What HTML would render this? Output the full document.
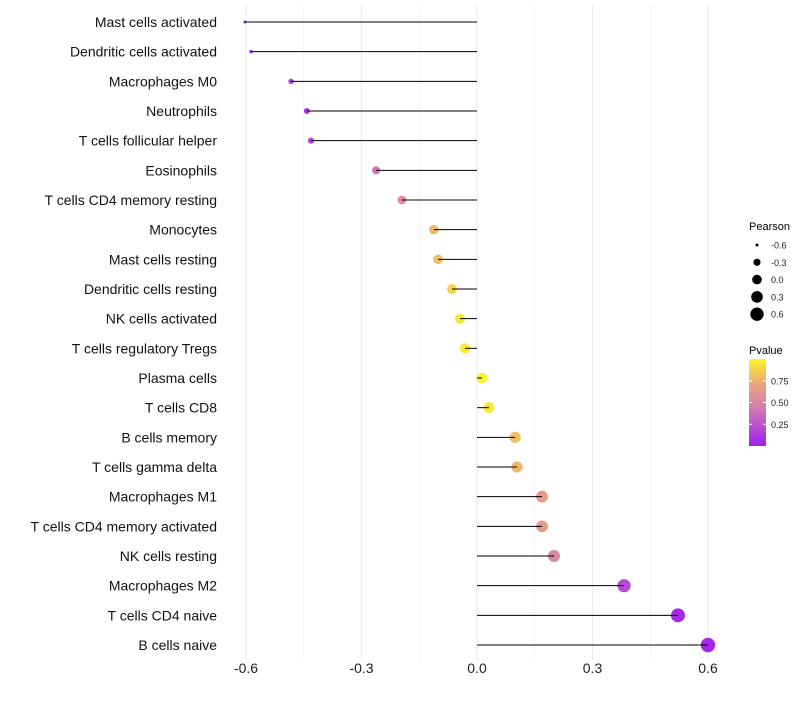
<!DOCTYPE html>
<html><head><meta charset="utf-8"><style>
body{margin:0;background:#fff;}
svg text{font-family:"Liberation Sans",sans-serif;}
</style></head><body>
<svg id="chart" width="800" height="700">
<defs><linearGradient id="pg" x1="0" y1="1" x2="0" y2="0">
<stop offset="0" stop-color="#a020f0"/><stop offset="0.45" stop-color="#d47fb0"/><stop offset="0.7" stop-color="#eba37e"/><stop offset="1" stop-color="#fcf524"/></linearGradient></defs>
<g id="grid"></g><g id="dots"></g><g id="marks"></g><g id="ylabels"></g><g id="xlabels"></g>
<g id="legend">
<text x="749" y="230" font-size="11">Pearson</text>
<g id="sizeleg"></g>
<text x="749" y="354" font-size="11">Pvalue</text>
<rect x="749" y="359" width="17" height="87" fill="url(#pg)"/>
<g id="colorleg"></g>
</g>
</svg>
<script>
const categories=["Mast cells activated","Dendritic cells activated","Macrophages M0","Neutrophils","T cells follicular helper","Eosinophils","T cells CD4 memory resting","Monocytes","Mast cells resting","Dendritic cells resting","NK cells activated","T cells regulatory  Tregs ","Plasma cells","T cells CD8","B cells memory","T cells gamma delta","Macrophages M1","T cells CD4 memory activated","NK cells resting","Macrophages M2","T cells CD4 naive","B cells naive"];
const pearson=[-0.603,-0.587,-0.483,-0.442,-0.431,-0.262,-0.195,-0.112,-0.101,-0.065,-0.044,-0.031,0.013,0.031,0.099,0.104,0.169,0.169,0.2,0.382,0.522,0.6];
const pvalues=[0.05,0.07,0.15,0.12,0.14,0.4,0.55,0.78,0.8,0.88,0.94,0.96,0.99,0.95,0.8,0.78,0.64,0.64,0.52,0.2,0.05,0.04];
const xTicks=[-0.6,-0.3,0.0,0.3,0.6];
const xTickLabels=["-0.6","-0.3","0.0","0.3","0.6"];
const sizeLegendVals=[-0.6,-0.3,0.0,0.3,0.6];
const colorTicks=[0.25,0.5,0.75];
const NS="http://www.w3.org/2000/svg";
const X=v=>477+v*385;
const Y=i=>22+i*(623/21);
const R=v=>Math.sqrt(2.5+(v+0.6)/1.2*50);
function lerp(a,b,t){return a.map((c,k)=>Math.round(c+(b[k]-c)*t));}
const stops=[[0,[160,32,240]],[0.45,[212,127,176]],[0.7,[235,163,126]],[1,[252,245,36]]];
function col(p){for(let k=0;k<stops.length-1;k++){const [a,ca]=stops[k],[b,cb]=stops[k+1];if(p<=b){return `rgb(${lerp(ca,cb,(p-a)/(b-a)).join(',')})`;}}return 'rgb(252,245,36)';}
function mk(tag,attrs,parent){const e=document.createElementNS(NS,tag);for(const k in attrs)e.setAttribute(k,attrs[k]);document.getElementById(parent).appendChild(e);return e;}
for(let v=-0.6;v<=0.61;v+=0.15){const e=mk('line',{x1:X(v),x2:X(v),y1:5,y2:660,stroke:'#ebebeb','stroke-width':Math.abs(Math.round(v/0.15))%2?0.6:1.1},'grid');

}
xTicks.forEach((v,i)=>{const t=mk('text',{x:X(v),y:673,'font-size':14,'text-anchor':'middle',fill:'#222'},'xlabels');t.textContent=xTickLabels[i];

});
categories.forEach((c,i)=>{
const t=mk('text',{x:217,y:Y(i)+5,'font-size':14,'text-anchor':'end',fill:'#111'},'ylabels');t.textContent=c;


const l=mk('line',{x1:X(0),x2:X(pearson[i]),y1:Y(i),y2:Y(i),stroke:'#000','stroke-width':1},'marks');


const d=mk('circle',{cx:X(pearson[i]),cy:Y(i),r:R(pearson[i]),fill:col(pvalues[i])},'dots');

});
sizeLegendVals.forEach((v,i)=>{const y=245+i*17.3;
const c=mk('circle',{cx:757,cy:y,r:R(v)*0.92,fill:'#000'},'sizeleg');


const t=mk('text',{x:771,y:y+3.5,'font-size':9,fill:'#222'},'sizeleg');t.textContent=v.toFixed(1);

});
colorTicks.forEach(p=>{const y=446-p*87;
mk('line',{x1:749,x2:752,y1:y,y2:y,stroke:'#fff'},'colorleg');
mk('line',{x1:763,x2:766,y1:y,y2:y,stroke:'#fff'},'colorleg');
const t=mk('text',{x:771,y:y+3.5,'font-size':9,fill:'#222'},'colorleg');t.textContent=p.toFixed(2);

});
</script>
</body></html>
